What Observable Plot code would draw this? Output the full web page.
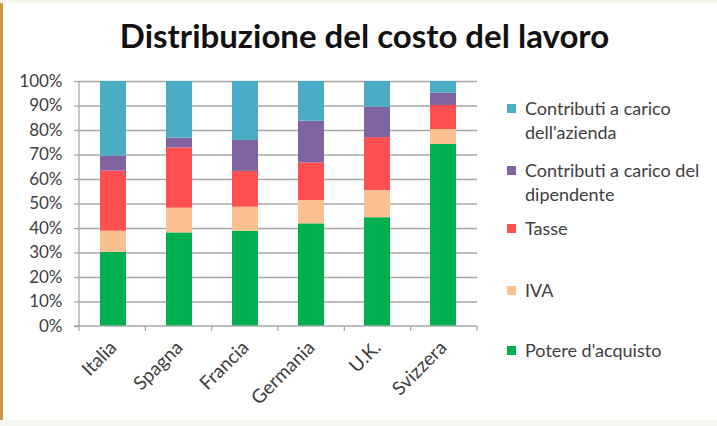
<!DOCTYPE html>
<html><head><meta charset="utf-8">
<script src="https://cdn.jsdelivr.net/npm/d3@7"></script>
<script src="https://cdn.jsdelivr.net/npm/@observablehq/plot@0.6"></script>
<style>
html,body{margin:0;padding:0;background:#fff;}
#frame{position:relative;width:717px;height:426px;overflow:hidden;background:#fff;font-family:Lato,sans-serif;color:#404040;}
#lborder{position:absolute;left:0;top:0;width:3px;height:426px;background:#c99a45;}
#tborder{position:absolute;left:0;top:0;width:717px;height:3px;background:#f6f4ec;}
#bborder{position:absolute;left:0;top:420px;width:717px;height:6px;background:#f6f5ef;}
#title{position:absolute;left:6px;width:717px;top:19px;text-align:center;font-weight:bold;font-size:33px;line-height:33px;color:#111;white-space:nowrap;}
#chart{position:absolute;left:0;top:62px;}
#legend{position:absolute;left:507px;top:0;width:210px;}
.item{position:absolute;left:0;display:flex;align-items:flex-start;font-size:18px;line-height:24px;color:#404040;width:208px;}
.sw{width:9px;height:9px;margin-top:8px;margin-right:9px;flex:none;}
</style></head><body>
<div id="frame">
  <div id="lborder"></div><div id="tborder"></div><div id="bborder"></div>
  <div id="title">Distribuzione del costo del lavoro</div>
  <div id="chart"></div>
  <div id="legend"></div>
</div>
<script>
// ---- data ----
const countries = ["Italia", "Spagna", "Francia", "Germania", "U.K.", "Svizzera"];
const series = ["Potere d'acquisto", "IVA", "Tasse", "Contributi a carico del dipendente", "Contributi a carico dell'azienda"];
const potere     = [30.3, 38.2, 38.9, 41.9, 44.4, 74.3];
const iva        = [ 8.6, 10.1,  9.8,  9.5, 11.1,  6.1];
const tasse      = [24.5, 24.6, 14.6, 15.3, 21.6,  9.8];
const contribDip = [ 6.1,  4.0, 12.6, 17.1, 12.4,  5.0];
const contribAz  = [30.5, 23.1, 24.1, 16.2, 10.5,  4.8];
const yTicks = [0, 10, 20, 30, 40, 50, 60, 70, 80, 90, 100];
const colors = ["#00b050", "#fac090", "#ff4f4f", "#8064a2", "#4bacc6"];

const valuesBySeries = [potere, iva, tasse, contribDip, contribAz];
const data = countries.flatMap((c, i) => series.map((s, j) => ({country: c, series: s, value: valuesBySeries[j][i]})));

const W = 717, H = 358, ML = 79, MR = 240, MT = 19, MB = 94;
const gridColor = "#a8a8a8";

function axesFrame(index, scales, values, dims) {
  const y = scales.y;
  const x0 = dims.marginLeft, x1 = dims.width - dims.marginRight;
  const n = countries.length;
  const g = d3.create("svg:g").attr("stroke", gridColor).attr("stroke-width", 1.3).attr("fill", "none");
  g.append("line").attr("x1", x0).attr("x2", x0).attr("y1", y(100)).attr("y2", y(0));
  g.append("line").attr("x1", x0 - 5).attr("x2", x1).attr("y1", y(0)).attr("y2", y(0));
  for (let i = 0; i <= n; i++) {
    const xx = x0 + i * (x1 - x0) / n;
    g.append("line").attr("x1", xx).attr("x2", xx).attr("y1", y(0)).attr("y2", y(0) + 5);
  }
  return g.node();
}

const plot = Plot.plot({
  width: W, height: H, marginTop: MT, marginBottom: MB, marginLeft: ML, marginRight: MR,
  style: {fontFamily: "Lato, sans-serif", fontSize: "17px", color: "#404040", background: "transparent", overflow: "visible"},
  x: {domain: countries, paddingInner: 0.6, paddingOuter: 0.3, label: null},
  y: {domain: [0, 100], label: null},
  color: {domain: series, range: colors},
  marks: [
    Plot.ruleY(yTicks.slice(1), {stroke: gridColor, strokeWidth: 1.3}),
    Plot.barY(data, {x: "country", y: "value", fill: "series"}),
    axesFrame,
    Plot.axisY({ticks: yTicks, tickFormat: d => d + "%", tickSize: 5, tickPadding: 12, stroke: gridColor, strokeWidth: 1.3, fill: "#404040", fontSize: 17}),
    Plot.axisX({tickRotate: -45, tickSize: 0, tickPadding: 18, fill: "#404040", fontSize: 19})
  ]
});
document.getElementById("chart").appendChild(plot);

// ---- legend (top to bottom, reverse stack order) ----
const legendTops = [96, 158, 216, 278, 338];
const leg = document.getElementById("legend");
series.slice().reverse().forEach((s, k) => {
  const idx = series.indexOf(s);
  const it = document.createElement("div");
  it.className = "item";
  it.style.top = legendTops[k] + "px";
  const sw = document.createElement("div");
  sw.className = "sw";
  sw.style.background = colors[idx];
  const tx = document.createElement("div");
  tx.textContent = s;
  it.appendChild(sw); it.appendChild(tx);
  leg.appendChild(it);
});
</script>
</body></html>
